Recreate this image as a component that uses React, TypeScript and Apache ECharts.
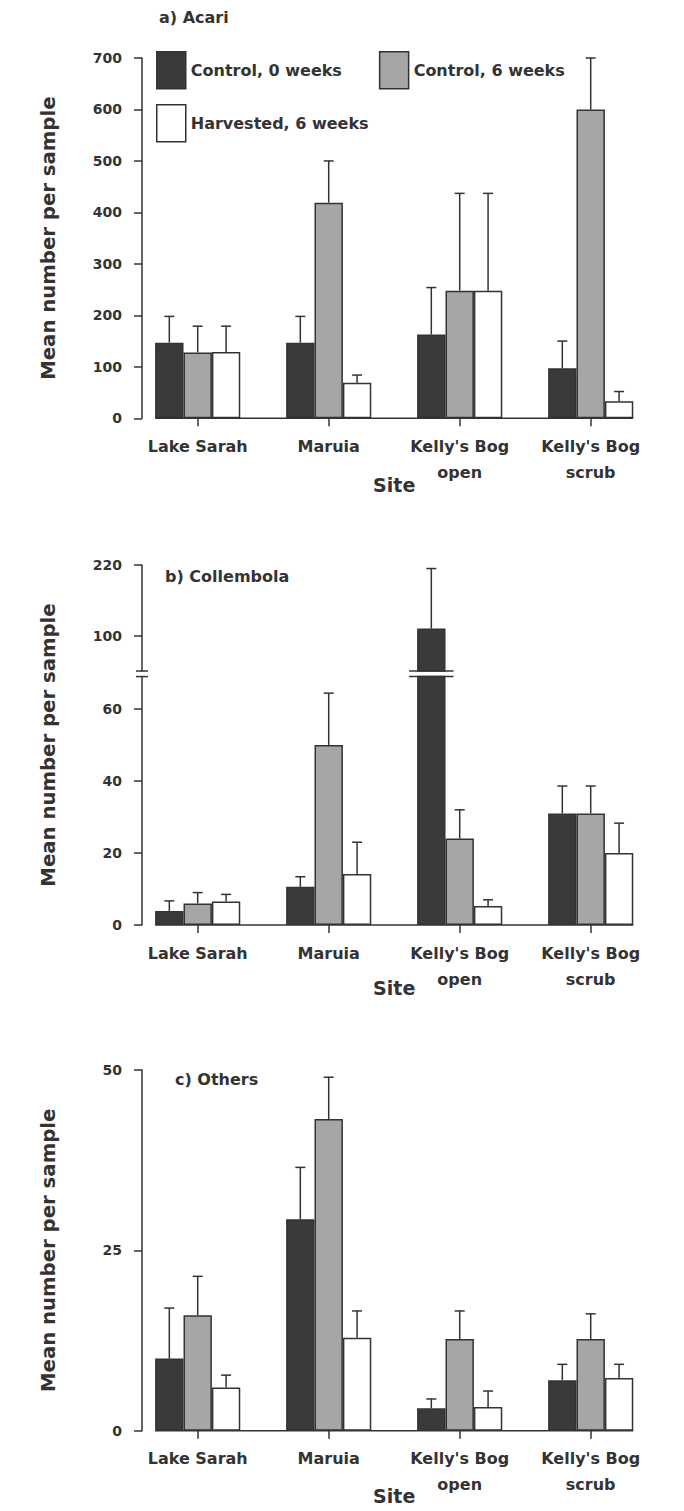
import React, { useEffect, useRef } from "react";
import * as echarts from "echarts";

// ---------- data ----------
const categories = ["Lake Sarah", "Maruia", "Kelly's Bog\nopen", "Kelly's Bog\nscrub"];
const seriesNames = ["Control, 0 weeks", "Control, 6 weeks", "Harvested, 6 weeks"];
const panelTitles = ["a) Acari", "b) Collembola", "c) Others"];
const yTitle = "Mean number per sample";
const xTitle = "Site";

// a) Acari (mean, mean + error)
const acariControl0 = [147, 147, 163, 97];
const acariControl0Err = [198, 198, 254, 150];
const acariControl6 = [128, 419, 248, 600];
const acariControl6Err = [179, 500, 437, 700];
const acariHarvested = [129, 69, 248, 33];
const acariHarvestedErr = [179, 84, 437, 52];

// b) Collembola
const collControl0 = [3.9, 10.6, 112, 31];
const collControl0Err = [6.7, 13.4, 214, 38.6];
const collControl6 = [6, 50, 24, 31];
const collControl6Err = [9, 64.4, 32, 38.6];
const collHarvested = [6.5, 14.2, 5.3, 20];
const collHarvestedErr = [8.5, 23, 7, 28.3];

// c) Others
const othersControl0 = [10, 29.3, 3.1, 7.0];
const othersControl0Err = [17, 36.5, 4.4, 9.2];
const othersControl6 = [16, 43.2, 12.7, 12.7];
const othersControl6Err = [21.4, 49, 16.6, 16.2];
const othersHarvested = [6, 12.9, 3.3, 7.3];
const othersHarvestedErr = [7.7, 16.6, 5.5, 9.2];

// axis ticks
const acariTicks = { min: 0, max: 700, interval: 100 };
const collLowerTicks = { min: 0, max: 69, labels: [0, 20, 40, 60] };
const collUpperTicks = { min: 40, max: 220, labels: [100, 220] };
const othersTicks = { min: 0, max: 50, interval: 25 };

// ---------- styles / layout ----------
const FILLS = ["#3a3a3a", "#a6a6a6", "#ffffff"];
const INK = "#333333";
const FONT = "DejaVu Sans";
const GRID_LEFT = 132.2;
const GRID_W = 524;
const AXIS_X = 142;
const GAP_RATIO = 0.35;

const GRIDS = [
  { top: 58, height: 360.3 }, // a
  { top: 565, height: 106 }, // b upper
  { top: 676.6, height: 248.4 }, // b lower
  { top: 1070, height: 360.7 }, // c
];

function App() {
  const ref = useRef<HTMLDivElement>(null);
  useEffect(() => {
    if (!ref.current) return;
    const chart = echarts.init(ref.current, null, { renderer: "svg" });

    const band = GRID_W / categories.length;
    const bw = (band * (1 - GAP_RATIO)) / 3;

    const panels = [
      { grid: 0, vals: [acariControl0, acariControl6, acariHarvested], errs: [acariControl0Err, acariControl6Err, acariHarvestedErr] },
      { grid: 2, vals: [collControl0, collControl6, collHarvested], errs: [collControl0Err, collControl6Err, collHarvestedErr] },
      { grid: 3, vals: [othersControl0, othersControl6, othersHarvested], errs: [othersControl0Err, othersControl6Err, othersHarvestedErr] },
    ];

    const axisLineStyle = { color: INK, width: 1.5 };
    const tickLabel = { fontFamily: FONT, fontSize: 14, fontWeight: "bold", color: INK };

    const xAxis: any[] = GRIDS.map((_, i) => ({
      type: "category",
      gridIndex: i,
      data: categories,
      show: i !== 1,
      axisLine: { show: false },
      axisTick: { show: true, alignWithLabel: true, length: 8, lineStyle: axisLineStyle },
      axisLabel: { ...tickLabel, fontSize: 16, lineHeight: 26, margin: 15, interval: 0 },
      name: i === 1 ? "" : xTitle,
      nameLocation: "middle",
      nameMoveOverlap: false,
      nameGap: i === 0 ? 57 : i === 2 ? 53 : 56,
      nameTextStyle: { fontFamily: FONT, fontSize: 19, fontWeight: "bold", color: INK },
    }));

    const yCommon = {
      type: "value",
      offset: -(AXIS_X - GRID_LEFT),
      axisLine: { show: true, lineStyle: axisLineStyle },
      axisTick: { show: true, length: 8, lineStyle: axisLineStyle },
      axisLabel: { ...tickLabel, margin: 20 },
      splitLine: { show: false },
    };
    const yAxis: any[] = [
      { ...yCommon, gridIndex: 0, ...acariTicks },
      {
        ...yCommon,
        gridIndex: 1,
        min: collUpperTicks.min,
        max: collUpperTicks.max,
        axisTick: { ...yCommon.axisTick, customValues: collUpperTicks.labels },
        axisLabel: { ...yCommon.axisLabel, customValues: collUpperTicks.labels },
      },
      {
        ...yCommon,
        gridIndex: 2,
        min: collLowerTicks.min,
        max: collLowerTicks.max,
        axisTick: { ...yCommon.axisTick, customValues: collLowerTicks.labels },
        axisLabel: { ...yCommon.axisLabel, customValues: collLowerTicks.labels },
      },
      { ...yCommon, gridIndex: 3, ...othersTicks },
    ];

    const series: any[] = [];
    const barBase = (k: number, gi: number, data: any[]) => ({
      type: "bar",
      name: seriesNames[k],
      xAxisIndex: gi,
      yAxisIndex: gi,
      data,
      barGap: "0%",
      barCategoryGap: GAP_RATIO * 100 + "%",
      itemStyle: { color: FILLS[k], borderColor: INK, borderWidth: 1.5 },
      clip: true,
    });

    const errRender = (mode: "plain" | "lower" | "upper") => (params: any, api: any) => {
      const cat = api.value(0);
      const top = api.value(1);
      const k = api.value(2);
      const val = api.value(3);
      const b = api.size([1, 0])[0];
      const w = (b * (1 - GAP_RATIO)) / 3;
      const base = api.coord([cat, val]);
      const x = base[0] + (k - 1) * w;
      const lineStyle = { stroke: INK, lineWidth: 1.5 };
      const children: any[] = [];
      if (mode === "lower" && val > collLowerTicks.max) {
        const yb = api.coord([cat, collLowerTicks.max])[1];
        children.push({ type: "line", shape: { x1: x - w / 2 - 8, y1: yb, x2: x + w / 2 + 8, y2: yb }, style: lineStyle });
        return { type: "group", children };
      }
      const yTop = api.coord([cat, top])[1];
      children.push({ type: "line", shape: { x1: x, y1: base[1], x2: x, y2: yTop }, style: lineStyle });
      children.push({ type: "line", shape: { x1: x - 5, y1: yTop, x2: x + 5, y2: yTop }, style: lineStyle });
      if (mode === "upper") {
        const yb = api.coord([cat, collUpperTicks.min])[1];
        children.push({ type: "line", shape: { x1: x - w / 2 - 8, y1: yb, x2: x + w / 2 + 8, y2: yb }, style: lineStyle });
      }
      return { type: "group", children };
    };

    panels.forEach((p) => {
      const errData: any[] = [];
      p.vals.forEach((vals, k) => {
        series.push(barBase(k, p.grid, vals));
        vals.forEach((v, c) => errData.push([c, p.errs[k][c], k, v]));
      });
      series.push({
        type: "custom",
        xAxisIndex: p.grid,
        yAxisIndex: p.grid,
        data: errData,
        clip: false,
        silent: true,
        encode: { x: 0, y: 1 },
        renderItem: errRender(p.grid === 2 ? "lower" : "plain"),
        z: 3,
      });
    });

    // b) upper segment above the axis break
    const upperErr: any[] = [];
    panels[1].vals.forEach((vals, k) => {
      series.push(barBase(k, 1, vals.map((v) => (v > collLowerTicks.max ? v : "-"))));
      vals.forEach((v, c) => {
        if (v > collLowerTicks.max) upperErr.push([c, panels[1].errs[k][c], k, v]);
      });
    });
    series.push({
      type: "custom",
      xAxisIndex: 1,
      yAxisIndex: 1,
      data: upperErr,
      clip: false,
      silent: true,
      encode: { x: 0, y: 1 },
      renderItem: errRender("upper"),
      z: 3,
    });

    // baselines (from first bar to last bar) and the axis-break marks
    const baseX1 = GRID_LEFT + band / 2 - 1.5 * bw;
    const baseX2 = GRID_LEFT + band * (categories.length - 0.5) + 1.5 * bw;
    const lineStyle = { stroke: INK, lineWidth: 1.5 };
    const graphic: any[] = [];
    [0, 2, 3].forEach((gi) => {
      const y = GRIDS[gi].top + GRIDS[gi].height;
      graphic.push({ type: "line", shape: { x1: baseX1, y1: y, x2: baseX2, y2: y }, style: lineStyle, z: 10 });
    });
    const breakYs = [GRIDS[1].top + GRIDS[1].height, GRIDS[2].top];
    breakYs.forEach((y) =>
      graphic.push({ type: "line", shape: { x1: AXIS_X - 6, y1: y, x2: AXIS_X + 6, y2: y }, style: lineStyle, z: 10 })
    );
    // y-axis titles
    const titleCenters = [
      GRIDS[0].top + GRIDS[0].height / 2,
      (GRIDS[1].top + GRIDS[2].top + GRIDS[2].height) / 2,
      GRIDS[3].top + GRIDS[3].height / 2,
    ];
    titleCenters.forEach((cy) =>
      graphic.push({
        type: "text",
        x: 48,
        y: cy,
        rotation: Math.PI / 2,
        style: {
          text: yTitle,
          fontFamily: FONT,
          fontSize: 19.7,
          fontWeight: "bold",
          fill: INK,
          align: "center",
          verticalAlign: "middle",
        },
      })
    );

    const titleStyle = { fontFamily: FONT, fontSize: 16, fontWeight: "bold", color: INK };
    const legendCommon = {
      left: 156,
      orient: "horizontal",
      itemWidth: 29,
      itemHeight: 37,
      icon: "rect",
      padding: 0,
      selectedMode: false,
      textStyle: { fontFamily: FONT, fontSize: 16, fontWeight: "bold", color: INK },
      itemStyle: { borderColor: INK, borderWidth: 1.5 },
    };

    chart.setOption({
      animation: false,
      backgroundColor: "#ffffff",
      title: [
        { text: panelTitles[0], left: 159, top: 9, padding: 0, textStyle: titleStyle },
        { text: panelTitles[1], left: 165, top: 568, padding: 0, textStyle: titleStyle },
        { text: panelTitles[2], left: 175, top: 1071, padding: 0, textStyle: titleStyle },
      ],
      legend: [
        { ...legendCommon, top: 51, itemGap: 37, data: [seriesNames[0], seriesNames[1]] },
        { ...legendCommon, top: 104, data: [seriesNames[2]] },
      ],
      grid: GRIDS.map((g) => ({
        left: GRID_LEFT,
        width: GRID_W,
        top: g.top,
        height: g.height,
        outerBoundsMode: "none",
        containLabel: false,
      })),
      xAxis,
      yAxis,
      series,
      graphic,
    });

    return () => chart.dispose();
  }, []);

  return (
    <div
      ref={ref}
      style={{ position: "absolute", left: 0, top: 0, width: 684, height: 1511, background: "#fff" }}
    />
  );
}

export default App;
